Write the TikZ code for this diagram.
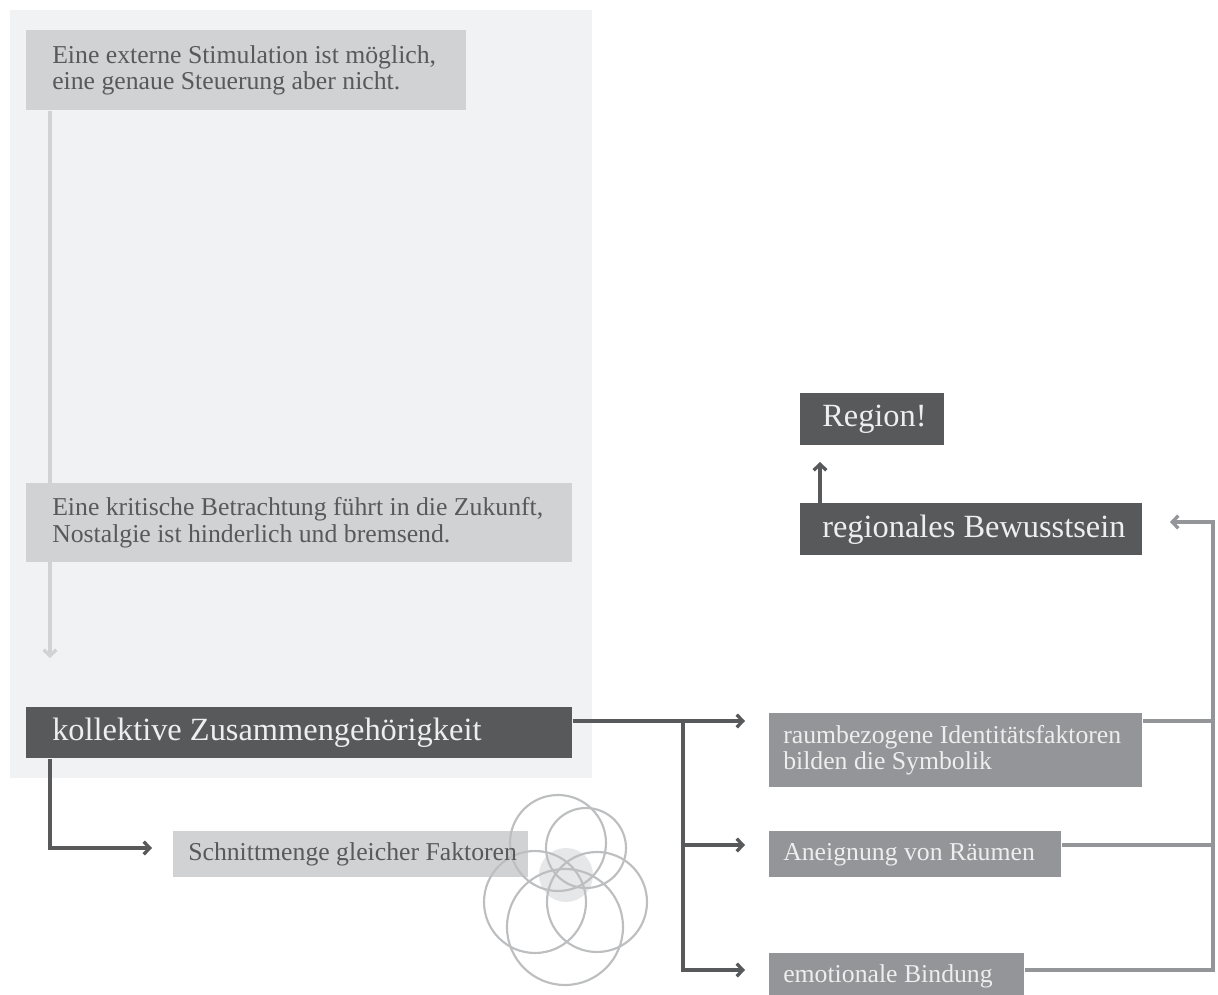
\documentclass[tikz,border=0pt]{standalone}
\usepackage{fontspec}
\setmainfont{Liberation Serif}
\usetikzlibrary{arrows.meta}

\definecolor{panel}{HTML}{F1F2F4}
\definecolor{boxLight}{HTML}{D1D2D4}
\definecolor{boxMid}{HTML}{939598}
\definecolor{boxDark}{HTML}{58595B}
\definecolor{txtDark}{HTML}{58595B}
\definecolor{txtLight}{HTML}{EDEEEE}
\definecolor{ring}{HTML}{BCBEC0}
\definecolor{core}{HTML}{E6E7E8}

\tikzstyle{box} = [anchor=north west, inner sep=0pt]
\tikzstyle{lightBox} = [box, fill=boxLight]
\tikzstyle{midBox} = [box, fill=boxMid]
\tikzstyle{darkBox} = [box, fill=boxDark]
\tikzstyle{txt} = [anchor=west, align=left, inner sep=0pt]
\tikzstyle{smallTxt} = [txt, font=\fontsize{19.3pt}{20pt}\selectfont]
\tikzstyle{bigTxt} = [txt, font=\fontsize{24.3pt}{26pt}\selectfont]
\tikzstyle{darkLine} = [draw=boxDark, line width=2.5pt]
\tikzstyle{midLine} = [draw=boxMid, line width=2.5pt]
\tikzstyle{lightLine} = [draw=boxLight, line width=2.5pt]
\tikzstyle{arrowHead} = [-{Straight Barb[length=4.5pt,width=9.5pt]}]
\tikzstyle{ringLine} = [draw=ring, line width=1.6pt]

\begin{document}
\begin{tikzpicture}[x=0.75pt,y=-0.75pt]
	\useasboundingbox (0,0) rectangle (1218,995);
	\clip (0,0) rectangle (1218,995);
	\fill[panel] (10,10) rectangle (592,778);

	% left column
	\node (stimulus) at (26,30) [lightBox, minimum width=330pt, minimum height=60pt] {};
	\node (stimulusTxt) at ([xshift=19.5pt]stimulus.west) [smallTxt, text=txtDark] {Eine externe Stimulation ist möglich,\\eine genaue Steuerung aber nicht.};
	\coordinate (kollIn) at (50,658);
	\path[lightLine, arrowHead] (stimulus.south -| kollIn) -- (kollIn);
	\node (kritik) at (26,483) [lightBox, minimum width=409.5pt, minimum height=59.25pt] {};
	\node (kritikTxt) at ([xshift=19.5pt]kritik.west) [smallTxt, text=txtDark] {Eine kritische Betrachtung führt in die Zukunft,\\Nostalgie ist hinderlich und bremsend.};
	\node (kollektiv) at (26,707) [darkBox, minimum width=409.5pt, minimum height=38.25pt] {};
	\node (kollektivTxt) at ([xshift=19.5pt]kollektiv.west) [bigTxt, text=txtLight] {kollektive Zusammengehörigkeit};

	% Schnittmenge
	\node (schnitt) at (173,831) [lightBox, minimum width=266.25pt, minimum height=34.5pt] {};
	\fill[core] (566,875) circle (20.25pt);
	\path[ringLine] (558,843) circle (36pt);
	\path[ringLine] (586,848) circle (30pt);
	\path[ringLine] (535,902) circle (38.25pt);
	\path[ringLine] (597,902) circle (37.5pt);
	\path[ringLine] (565,927) circle (43.5pt);
	\node (schnittTxt) at ([xshift=11.25pt]schnitt.west) [smallTxt, text=txtDark] {Schnittmenge gleicher Faktoren};
	\coordinate (schnittIn) at (152,848);
	\path[darkLine, arrowHead] (kollektiv.south -| kollIn) |- (schnittIn);

	% right column
	\node (raum) at (769,713) [midBox, minimum width=279.75pt, minimum height=55.5pt] {};
	\node (raumTxt) at ([xshift=10.5pt]raum.west) [smallTxt, text=txtLight] {raumbezogene Identitätsfaktoren\\bilden die Symbolik};
	\node (aneig) at (769,831) [midBox, minimum width=219pt, minimum height=34.5pt] {};
	\node (aneigTxt) at ([xshift=10.5pt]aneig.west) [smallTxt, text=txtLight] {Aneignung von Räumen};
	\node (emo) at (769,953) [midBox, minimum width=191.25pt, minimum height=34.5pt] {};
	\node (emoTxt) at ([xshift=10.5pt]emo.west) [smallTxt, text=txtLight] {emotionale Bindung};
	\node (bewusst) at (800,503) [darkBox, minimum width=256.5pt, minimum height=39pt] {};
	\node (bewusstTxt) at ([xshift=16.5pt]bewusst.west) [bigTxt, text=txtLight] {regionales Bewusstsein};
	\node (region) at (800,393) [darkBox, minimum width=108pt, minimum height=39pt] {};
	\node (regionTxt) at ([xshift=16.5pt]region.west) [bigTxt, text=txtLight] {Region!};

	% fork to the factors
	\coordinate (raumIn) at (745,721);
	\coordinate (aneigIn) at (745,845);
	\coordinate (emoIn) at (745,970);
	\coordinate (fork) at (683,721);
	\path[darkLine, arrowHead] (kollektiv.east |- raumIn) -- (raumIn);
	\path[darkLine, arrowHead] (fork) |- (emoIn);
	\path[darkLine, arrowHead] (fork |- aneigIn) -- (aneigIn);

	% back to Bewusstsein
	\coordinate (back) at (1213,522);
	\coordinate (bewusstIn) at (1170,522);
	\path[midLine] (raum.east |- raumIn) -- (raumIn -| back);
	\path[midLine] (aneig.east |- aneigIn) -- (aneigIn -| back);
	\path[midLine, arrowHead] (emo.east |- emoIn) -| (back) -- (bewusstIn);
	\coordinate (regionIn) at (820,462);
	\path[darkLine, arrowHead] (bewusst.north -| regionIn) -- (regionIn);
\end{tikzpicture}
\end{document}
